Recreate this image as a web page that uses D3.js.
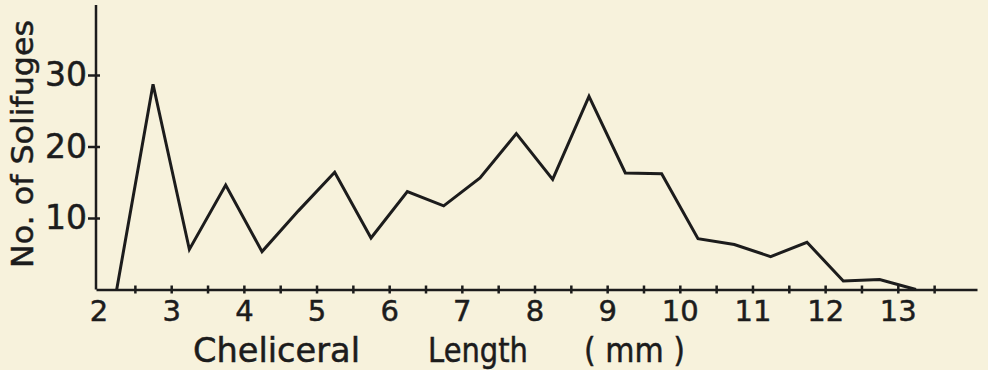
<!DOCTYPE html>
<html>
<head>
<meta charset="utf-8">
<script src="https://cdn.jsdelivr.net/npm/d3@7"></script>
<style>
  body { margin: 0; background: #f7f2dc; }
  svg { display: block; }
  text { font-family: "DejaVu Sans", sans-serif; fill: #1c1c1c; stroke: #1c1c1c; stroke-width: 0.5px; }
</style>
</head>
<body>
<div id="chart"></div>
<script>
// chelicera length classes (mid points, mm) and number of solifuges
var lengths = [2.25, 2.75, 3.25, 3.75, 4.25, 4.75, 5.25, 5.75, 6.25, 6.75, 7.25, 7.75,
               8.25, 8.75, 9.25, 9.75, 10.25, 10.75, 11.25, 11.75, 12.25, 12.75, 13.25];
var counts = [0, 28.7, 5.6, 14.6, 5.3, 11, 16.4, 7.2, 13.7, 11.7, 15.6, 21.8,
              15.4, 27, 16.3, 16.2, 7.1, 6.3, 4.6, 6.6, 1.2, 1.4, 0];

var xTicks = [2, 2.5, 3, 3.5, 4, 4.5, 5, 5.5, 6, 6.5, 7, 7.5, 8, 8.5, 9, 9.5,
              10, 10.5, 11, 11.5, 12, 12.5, 13, 13.5];
var yTicks = [10, 20, 30];

var svgWidth = 988;
var svgHeight = 370;

var svg = d3.select("#chart")
    .append("svg")
    .attr("width", svgWidth)
    .attr("height", svgHeight);

// scales: origin of axes sits a little left of the "2" mark
var x = d3.scaleLinear().domain([1.965, 14.09]).range([96, 977]);
var y = d3.scaleLinear().domain([0, 30]).range([289.5, 75]);

// x axis
var xAxis = d3.axisBottom(x)
    .tickValues(xTicks)
    .tickSize(0)
    .tickPadding(0)
    .tickFormat(function (d) { return d % 1 === 0 ? d : ""; });

var gx = svg.append("g")
    .attr("transform", "translate(0," + y(0) + ")")
    .call(xAxis);

gx.select(".domain")
    .attr("stroke", "#1c1c1c")
    .attr("stroke-width", 2.5);

gx.selectAll(".tick line")
    .attr("y1", -4)
    .attr("y2", 4)
    .attr("stroke", "#1c1c1c")
    .attr("stroke-width", 2.5)
    .filter(function (d) { return d === 2; })
    .remove();

gx.selectAll(".tick text")
    .attr("y", 31.5)
    .attr("dy", 0)
    .style("font-size", "29px")
    .style("font-family", "'DejaVu Sans', sans-serif")
    .attr("fill", "#1c1c1c");

// y axis
var yAxis = d3.axisLeft(y)
    .tickValues(yTicks)
    .tickSize(0)
    .tickPadding(9);

var gy = svg.append("g")
    .attr("transform", "translate(" + x(1.965) + ",0)")
    .call(yAxis);

gy.select(".domain")
    .attr("d", "M0," + y(0) + "V5")
    .attr("stroke", "#1c1c1c")
    .attr("stroke-width", 2.5);

gy.selectAll(".tick line")
    .attr("x1", -8)
    .attr("x2", 4)
    .attr("stroke", "#1c1c1c")
    .attr("stroke-width", 2.5);

gy.selectAll(".tick text")
    .style("font-size", "33px")
    .style("font-family", "'DejaVu Sans', sans-serif")
    .attr("fill", "#1c1c1c");

// the frequency line
var valueline = d3.line()
    .x(function (d, i) { return x(lengths[i]); })
    .y(function (d) { return y(d); });

svg.append("path")
    .datum(counts)
    .attr("d", valueline)
    .attr("fill", "none")
    .attr("stroke", "#1c1c1c")
    .attr("stroke-width", 3)
    .attr("stroke-linejoin", "miter");

// axis titles
svg.append("text")
    .attr("transform", "translate(33,144) rotate(-90)")
    .attr("text-anchor", "middle")
    .attr("textLength", 248)
    .attr("lengthAdjust", "spacingAndGlyphs")
    .style("font-size", "31px")
    .text("No. of Solifuges");

var titleParts = [
    { t: "Cheliceral", x: 193, w: 167 },
    { t: "Length", x: 428, w: 100 },
    { t: "( mm )", x: 584, w: 101 }
];

svg.selectAll(".xtitle")
    .data(titleParts)
    .enter().append("text")
    .attr("class", "xtitle")
    .attr("x", function (d) { return d.x; })
    .attr("y", 361.5)
    .attr("textLength", function (d) { return d.w; })
    .attr("lengthAdjust", "spacingAndGlyphs")
    .style("font-size", "33px")
    .text(function (d) { return d.t; });
</script>
</body>
</html>
